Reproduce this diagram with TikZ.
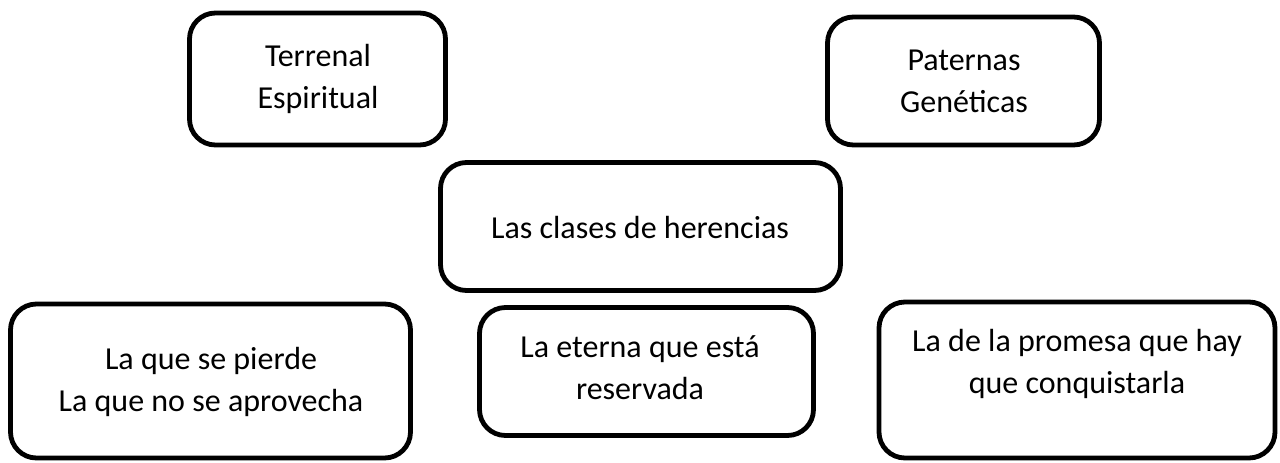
\documentclass[tikz,border=0pt]{standalone}
\usepackage{fontspec}
\setmainfont{Carlito}
\begin{document}
\begin{tikzpicture}
[x=0.5pt,y=-0.5pt,
box/.style={draw,line width=2.4pt,rounded corners=13pt,inner sep=0pt},
txt/.style={align=center,font=\fontsize{16}{21}\selectfont,inner sep=0pt}]
\useasboundingbox (0,0) rectangle (1280,462);
% cajas
\node[box,minimum width=128pt,minimum height=66pt] (terrenal) at (317.5,79) {};
\node[box,minimum width=136pt,minimum height=64pt] (paternas) at (963.5,81) {};
\node[box,minimum width=200pt,minimum height=64pt] (clases) at (640.5,226.5) {};
\node[box,minimum width=200pt,minimum height=77pt] (pierde) at (210.5,381) {};
\node[box,minimum width=167pt,minimum height=64pt] (eterna) at (646.5,371.5) {};
\node[box,minimum width=198pt,minimum height=78pt] (promesa) at (1077,380) {};
% textos
\node[txt] (terrenalT) at (318,79) {Terrenal\\Espiritual};
\node[txt] (paternasT) at (964,81) {Paternas\\Genéticas};
\node[txt] (clasesT) at (640,227) {Las clases de herencias};
\node[txt] (pierdeT) at (211,382) {La que se pierde\\La que no se aprovecha};
\node[txt] (eternaT) at (640,368) {La eterna que está\\reservada};
\node[txt] (promesaT) at (1077,364) {La de la promesa que hay\\que conquistarla};
\end{tikzpicture}
\end{document}
